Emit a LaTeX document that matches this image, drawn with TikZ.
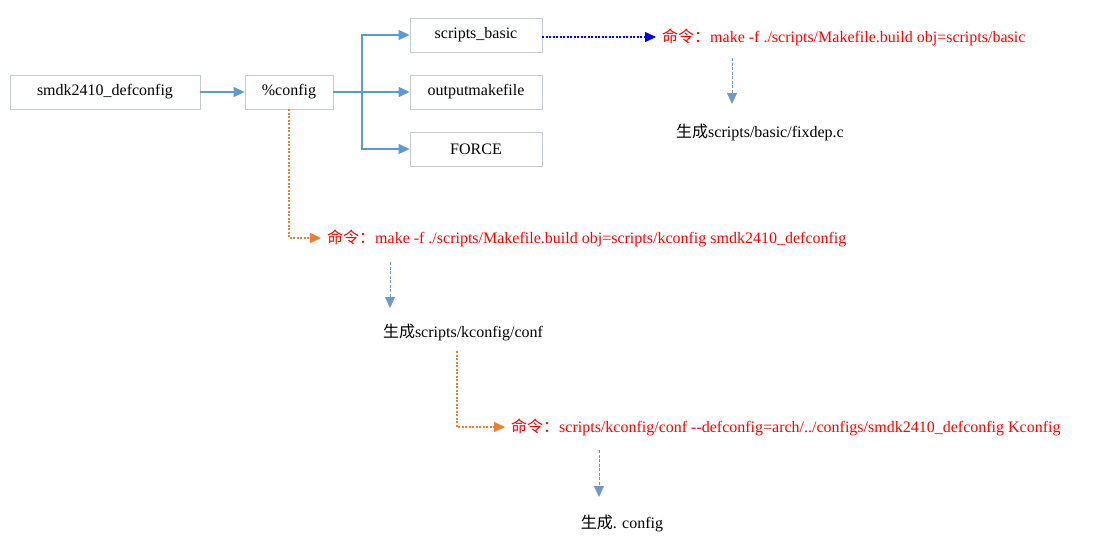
\documentclass[tikz,border=0pt]{standalone}
\usepackage{fontspec}
\setmainfont{Liberation Serif}
\newfontfamily\cjk{Noto Sans CJK SC}
\usepackage{xcolor}
\usetikzlibrary{positioning,arrows.meta,calc}
\definecolor{lineblue}{HTML}{5B9BD5}
\definecolor{lineorange}{HTML}{ED7D31}
\definecolor{dashblue}{HTML}{7098CC}
\definecolor{boxgray}{HTML}{C4C9D0}

\begin{document}
\begin{tikzpicture}[x=1pt,y=-1pt,
  every node/.style={font=\fontsize{16}{19}\selectfont},
  box/.style={draw=boxgray,line width=0.8pt,minimum height=34pt,inner sep=2pt},
  cmd/.style={text=red,anchor=west,inner sep=6pt},
  flow/.style={-{Triangle[width=10pt,length=11pt]},lineblue,line width=1.1pt},
  call/.style={-{Triangle[width=10pt,length=11pt]},blue,line width=1.1pt,dash pattern=on 2pt off 1.5pt},
  hint/.style={-{Triangle[width=10pt,length=11pt]},lineorange,line width=1.1pt,dash pattern=on 2pt off 1.5pt},
  gen/.style={-{Triangle[width=10pt,length=11pt]},dashblue,line width=0.9pt,dash pattern=on 3pt off 1.5pt}]
  \useasboundingbox (0,0) rectangle (1114,536);

  \node[box,minimum width=190pt] (def) at (105,92) {smdk2410\_defconfig};
  \node[box,minimum width=88pt] (cfg) at (289,92) {\%config};
  \node[box,minimum width=132pt] (basic) at (476,35) {scripts\_basic};
  \node[box,minimum width=132pt] (out) at (476,92) {outputmakefile};
  \node[box,minimum width=132pt] (force) at (476,149) {FORCE};
  \coordinate (fork) at (362,92);

  \draw[flow] (def) -- (cfg);
  \draw[flow] (cfg) -- (out);
  \draw[flow] (fork) |- (basic);
  \draw[flow] (fork) |- (force);

  % scripts_basic
  \node[cmd] (c1) at (656,37) {{\cjk 命令：}make -f ./scripts/Makefile.build obj=scripts/basic};
  \node (g1) at (760,132) {{\cjk 生成}scripts/basic/fixdep.c};
  \coordinate (s1) at (732,58);
  \coordinate (e1) at (732,104);
  \draw[call] (basic.east |- c1) -- (c1.west);
  \draw[gen] (s1) -- (e1);

  % %config
  \node[cmd] (c2) at (321,238) {{\cjk 命令：}make -f ./scripts/Makefile.build obj=scripts/kconfig smdk2410\_defconfig};
  \node (g2) at (463,333) {{\cjk 生成}scripts/kconfig/conf};
  \coordinate (s2) at (390,262);
  \coordinate (e2) at (390,308);
  \draw[hint] (cfg.south) |- (c2.west);
  \draw[gen] (s2) -- (e2);

  % conf
  \node[cmd] (c3) at (505,427) {{\cjk 命令：}scripts/kconfig/conf -{}-defconfig=arch/../configs/smdk2410\_defconfig Kconfig};
  \node (g3) at (622,523) {{\cjk 生成}. config};
  \coordinate (k2) at (457,351);
  \coordinate (s3) at (599,450);
  \coordinate (e3) at (599,497);
  \draw[hint] (k2) |- (c3.west);
  \draw[gen] (s3) -- (e3);
\end{tikzpicture}
\end{document}
